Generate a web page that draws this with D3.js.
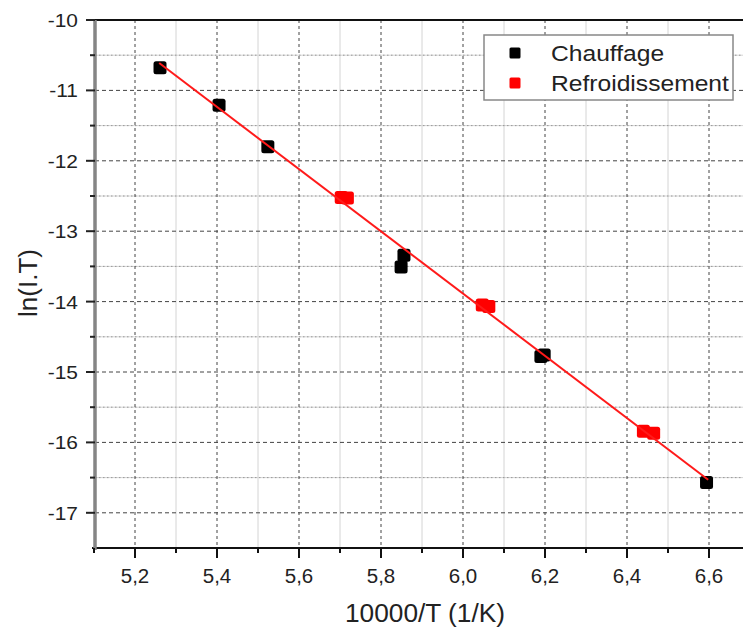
<!DOCTYPE html>
<html><head><meta charset="utf-8">
<script src="https://cdn.jsdelivr.net/npm/d3@7"></script>
<style>body{margin:0;background:#fff}svg{display:block}text{font-family:"Liberation Sans",Arial,sans-serif;fill:#222}</style>
</head><body>
<svg id="c" width="743" height="630"></svg>
<script>
// Data
const chauffageX = [5.261, 5.405, 5.524, 5.856, 5.849, 6.198, 6.190, 6.594];
const chauffageY = [-10.68, -11.21, -11.80, -13.34, -13.51, -14.76, -14.78, -16.57];
const refroidX = [5.703, 5.718, 6.047, 6.063, 6.440, 6.465];
const refroidY = [-12.52, -12.53, -14.05, -14.07, -15.84, -15.87];
const fitX = [5.259, 6.598];
const fitY = [-10.61, -16.53];
const xMajor = [5.2, 5.4, 5.6, 5.8, 6.0, 6.2, 6.4, 6.6];
const xMinor = [5.1, 5.3, 5.5, 5.7, 5.9, 6.1, 6.3, 6.5];
const yMajor = [-10, -11, -12, -13, -14, -15, -16, -17];
const yMinor = [-10.5, -11.5, -12.5, -13.5, -14.5, -15.5, -16.5, -17.5];
const seriesNames = ["Chauffage", "Refroidissement"];

const svg = d3.select("#c");
const L = 95, T = 20, B = 548, R = 743;
const x = d3.scaleLinear().domain([5.1, 6.7]).range([94, 750]);
const y = d3.scaleLinear().domain([-17.5, -10]).range([B, T]);
const fmt = d => d3.format(".1f")(d).replace(".", ",");

const g = svg.append("g");
// minor grid
g.selectAll(".vmin").data(xMinor.filter(d => d > 5.15)).join("line")
  .attr("x1", d => x(d)).attr("x2", d => x(d)).attr("y1", T).attr("y2", B)
  .attr("stroke", "#d4d4d4").attr("stroke-width", 1);
g.selectAll(".hmin").data(yMinor.filter(d => d > -17.45)).join("line")
  .attr("x1", L).attr("x2", R).attr("y1", d => y(d)).attr("y2", d => y(d))
  .attr("stroke", "#d4d4d4").attr("stroke-width", 1);
g.selectAll(".hmin2").data(yMinor.filter(d => d > -17.45)).join("line")
  .attr("x1", L).attr("x2", R).attr("y1", d => y(d)).attr("y2", d => y(d))
  .attr("stroke", "#999").attr("stroke-width", 1).attr("stroke-dasharray", "1.5,2.5");
// major grid
g.selectAll(".vmaj").data(xMajor).join("line")
  .attr("x1", d => x(d)).attr("x2", d => x(d)).attr("y1", T).attr("y2", B)
  .attr("stroke", "#444").attr("stroke-width", 1).attr("stroke-dasharray", "3,3");
g.selectAll(".hmaj").data(yMajor.filter(d => d < -10.01)).join("line")
  .attr("x1", L).attr("x2", R).attr("y1", d => y(d)).attr("y2", d => y(d))
  .attr("stroke", "#444").attr("stroke-width", 1).attr("stroke-dasharray", "4,3");

// axes lines
svg.append("line").attr("x1", 86).attr("x2", R).attr("y1", T).attr("y2", T).attr("stroke", "#111").attr("stroke-width", 2);
svg.append("line").attr("x1", 92).attr("x2", R).attr("y1", B).attr("y2", B).attr("stroke", "#111").attr("stroke-width", 2);
svg.append("line").attr("x1", L).attr("x2", L).attr("y1", T).attr("y2", B + 2).attr("stroke", "#858585").attr("stroke-width", 3.5);

// y ticks
svg.selectAll(".ytk").data(yMajor).join("line")
  .attr("x1", 86).attr("x2", L).attr("y1", d => y(d)).attr("y2", d => y(d)).attr("stroke", "#222").attr("stroke-width", 2);
svg.selectAll(".ytm").data(yMinor.filter(d => d > -17.45)).join("line")
  .attr("x1", 90).attr("x2", L).attr("y1", d => y(d)).attr("y2", d => y(d)).attr("stroke", "#222").attr("stroke-width", 2);
svg.selectAll(".ytl").data(yMajor).join("text")
  .attr("x", 78).attr("y", d => y(d) + 7).attr("text-anchor", "end")
  .attr("font-size", 19).attr("transform", d => `translate(${78 - 78 * 1.1},0) scale(1.1,1)`)
  .text(d => d3.format("d")(d).replace("−", "-"));

// x ticks
svg.selectAll(".xtk").data(xMajor).join("line")
  .attr("x1", d => x(d)).attr("x2", d => x(d)).attr("y1", B).attr("y2", B + 10).attr("stroke", "#111").attr("stroke-width", 2);
svg.selectAll(".xtm").data(xMinor).join("line")
  .attr("x1", d => x(d)).attr("x2", d => x(d)).attr("y1", B).attr("y2", B + 5).attr("stroke", "#111").attr("stroke-width", 2);
svg.selectAll(".xtl").data(xMajor).join("text")
  .attr("x", d => x(d)).attr("y", 583).attr("text-anchor", "middle").attr("font-size", 20.5)
  .text(fmt);

// axis titles
svg.append("text").attr("x", 425).attr("y", 622).attr("text-anchor", "middle").attr("font-size", 25)
  .attr("transform", `translate(${425 - 425 * 1.05},0) scale(1.05,1)`).text("10000/T (1/K)");
svg.append("text").attr("transform", "translate(37,283) rotate(-90)").attr("text-anchor", "middle").attr("font-size", 26).text("ln(I.T)");

// points
const sq = 13;
svg.selectAll(".pc").data(chauffageX.map((d, i) => [d, chauffageY[i]])).join("rect")
  .attr("x", d => x(d[0]) - sq / 2).attr("y", d => y(d[1]) - sq / 2).attr("width", sq).attr("height", sq)
  .attr("rx", 2.5).attr("fill", "#000");
svg.selectAll(".pr").data(refroidX.map((d, i) => [d, refroidY[i]])).join("rect")
  .attr("x", d => x(d[0]) - sq / 2).attr("y", d => y(d[1]) - sq / 2).attr("width", sq).attr("height", sq)
  .attr("rx", 2.5).attr("fill", "#ff0000");

// fit line
svg.append("path").datum(fitX.map((d, i) => [d, fitY[i]]))
  .attr("d", d3.line().x(d => x(d[0])).y(d => y(d[1])))
  .attr("stroke", "#ff1a1a").attr("stroke-width", 2).attr("fill", "none");

// legend
svg.append("rect").attr("x", 484).attr("y", 35).attr("width", 249).attr("height", 65)
  .attr("fill", "#fff").attr("stroke", "#888").attr("stroke-width", 1.5);
const colors = ["#000", "#ff0000"];
seriesNames.forEach((n, i) => {
  const cy = 53 + i * 30;
  svg.append("rect").attr("x", 515 - 5.5).attr("y", cy - 5.5).attr("width", 11).attr("height", 11).attr("rx", 1.5).attr("fill", colors[i]);
  svg.append("text").attr("x", 551).attr("y", cy + 8).attr("font-size", 22)
    .attr("transform", `translate(${551 - 551 * 1.12},0) scale(1.12,1)`).text(n);
});
</script>
</body></html>
